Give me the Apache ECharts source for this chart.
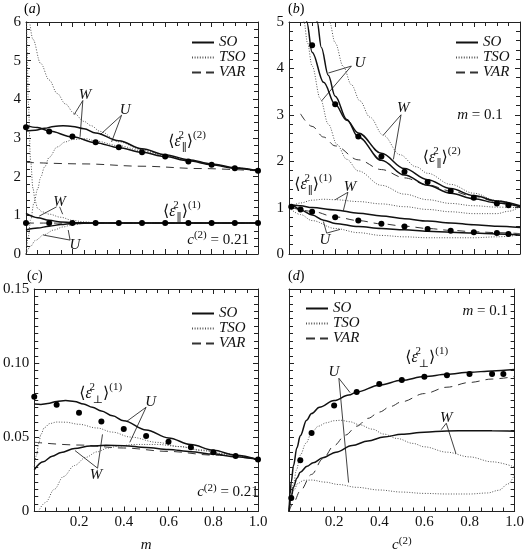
<!DOCTYPE html>
<html><head><meta charset="utf-8">
<script src="https://cdn.jsdelivr.net/npm/echarts@6/dist/echarts.min.js"></script>
<style>html,body{margin:0;padding:0;background:#fff}#c{width:527px;height:554px}</style>
</head><body><div id="c"></div>
<script>
const FONT = '"Liberation Serif","DejaVu Serif","Times New Roman",serif';

// ---------- Panel (a): x = m, c(2)=0.21 ----------
const aDotX = [0,0.1,0.2,0.3,0.4,0.5,0.6,0.7,0.8,0.9,1.0];
const aDotPar2 = [3.28,3.17,3.04,2.89,2.76,2.63,2.52,2.39,2.31,2.22,2.15];
const aDotPar1 = [0.8,0.8,0.8,0.8,0.8,0.8,0.8,0.8,0.8,0.8,0.8];
const aSO_W2 = [[0,3.32],[0.05,3.27],[0.1,3.18],[0.2,3.03],[0.3,2.88],[0.4,2.75],[0.5,2.63],[0.6,2.52],[0.7,2.41],[0.8,2.31],[0.9,2.22],[1,2.15]];
const aSO_U2 = [[0,3.18],[0.04,3.2],[0.08,3.25],[0.12,3.3],[0.16,3.32],[0.2,3.3],[0.25,3.24],[0.3,3.13],[0.4,2.93],[0.5,2.72],[0.6,2.57],[0.7,2.44],[0.8,2.33],[0.9,2.23],[1,2.15]];
const aTSO_W2 = [[0.012,6.2],[0.03,5.55],[0.063,4.93],[0.1,4.5],[0.135,4.15],[0.17,3.88],[0.207,3.64],[0.25,3.43],[0.28,3.32],[0.32,3.17],[0.4,2.9],[0.5,2.7],[0.6,2.55],[0.7,2.42],[0.8,2.32],[0.9,2.23],[1,2.15]];
const aTSO_U2 = [[0,0],[0.01,0.45],[0.02,0.88],[0.034,1.31],[0.05,1.68],[0.063,1.98],[0.08,2.25],[0.1,2.5],[0.135,2.77],[0.17,2.9],[0.2,2.96],[0.26,2.98],[0.3,2.92],[0.4,2.8],[0.5,2.67],[0.6,2.54],[0.7,2.42],[0.8,2.31],[0.9,2.22],[1,2.15]];
const aVAR2 = [[0,2.37],[0.25,2.33],[0.5,2.27],[0.75,2.21],[1,2.15]];
const aSO_W1 = [[0,1.05],[0.05,0.94],[0.1,0.87],[0.15,0.83],[0.2,0.81],[0.3,0.8],[1,0.8]];
const aSO_U1 = [[0,0.62],[0.05,0.67],[0.1,0.72],[0.15,0.76],[0.2,0.79],[0.3,0.8],[1,0.8]];
const aTSO_W1 = [[0.002,6.5],[0.005,5.2],[0.01,3.9],[0.02,2.4],[0.03,1.7],[0.04,1.35],[0.05,1.18],[0.07,1.09],[0.1,1.03],[0.15,0.95],[0.2,0.87],[0.25,0.83],[0.3,0.81],[0.4,0.8],[1,0.8]];
const aTSO_U1 = [[0,0],[0.02,0.2],[0.04,0.35],[0.078,0.5],[0.12,0.62],[0.16,0.7],[0.2,0.76],[0.25,0.79],[0.3,0.8],[1,0.8]];
const aVAR1 = [[0,0.8],[1,0.8]];

// ---------- Panel (b): x = c(2), m=0.1 ----------
const bDotX2 = [0.1,0.2,0.3,0.4,0.5,0.6,0.7,0.8,0.9,0.95];
const bDotPar2 = [4.5,3.23,2.53,2.1,1.77,1.55,1.36,1.21,1.09,1.05];
const bDotX1 = [0.01,0.05,0.1,0.2,0.3,0.4,0.5,0.6,0.7,0.8,0.9,0.95];
const bDotPar1 = [1.02,0.96,0.91,0.79,0.72,0.65,0.59,0.54,0.5,0.47,0.45,0.43];
const bSO_U2 = [[0.116,5.2],[0.122,5.0],[0.14,4.45],[0.17,3.85],[0.2,3.4],[0.25,2.9],[0.3,2.52],[0.4,2.02],[0.5,1.7],[0.6,1.48],[0.7,1.31],[0.8,1.19],[0.9,1.1],[1,1.02]];
const bSO_W2 = [[0.071,5.2],[0.077,5.0],[0.1,4.35],[0.15,3.7],[0.2,3.22],[0.25,2.88],[0.3,2.61],[0.4,2.17],[0.5,1.84],[0.6,1.6],[0.7,1.41],[0.8,1.26],[0.9,1.14],[1,1.04]];
const bTSO_U2 = [[0.06,5.2],[0.065,5.0],[0.08,4.55],[0.1,4.05],[0.136,3.34],[0.17,2.8],[0.208,2.36],[0.25,2.04],[0.3,1.79],[0.4,1.48],[0.5,1.29],[0.6,1.17],[0.7,1.09],[0.8,1.04],[0.9,1.01],[1,1.0]];
const bTSO_W2 = [[0.17,5.2],[0.175,5.0],[0.2,4.55],[0.235,4.04],[0.27,3.65],[0.307,3.3],[0.35,2.95],[0.408,2.56],[0.48,2.14],[0.55,1.88],[0.6,1.74],[0.7,1.5],[0.8,1.31],[0.9,1.15],[1,1.03]];
const bVAR2 = [[0.05,3.02],[0.1,2.75],[0.15,2.52],[0.2,2.33],[0.3,2.03],[0.4,1.82],[0.5,1.64],[0.6,1.49],[0.7,1.36],[0.8,1.24],[0.9,1.13],[1,1.03]];
const bSO_W1 = [[0,1.0],[0.02,1.05],[0.05,1.04],[0.1,1.0],[0.2,0.95],[0.3,0.88],[0.4,0.82],[0.5,0.76],[0.6,0.71],[0.7,0.67],[0.8,0.63],[0.9,0.6],[1,0.57]];
const bSO_U1 = [[0,1.0],[0.02,1.03],[0.05,0.95],[0.1,0.84],[0.15,0.73],[0.2,0.66],[0.3,0.59],[0.4,0.55],[0.5,0.52],[0.6,0.49],[0.7,0.47],[0.8,0.45],[0.9,0.43],[1,0.41]];
const bTSO_W1 = [[0,1.0],[0.05,1.1],[0.1,1.16],[0.15,1.18],[0.2,1.17],[0.3,1.13],[0.4,1.08],[0.5,1.02],[0.6,0.96],[0.7,0.91],[0.8,0.87],[0.9,0.87],[0.95,0.92],[1,1.02]];
const bTSO_U1 = [[0,1.0],[0.05,0.85],[0.1,0.72],[0.2,0.55],[0.3,0.46],[0.4,0.4],[0.5,0.37],[0.6,0.35],[0.7,0.35],[0.8,0.35],[0.9,0.37],[1,0.41]];
const bVAR1 = [[0.01,1.0],[0.1,0.92],[0.2,0.8],[0.3,0.72],[0.4,0.65],[0.5,0.6],[0.6,0.55],[0.7,0.51],[0.8,0.48],[0.9,0.46],[1,0.44]];

// ---------- Panel (c): x = m, c(2)=0.21 ----------
const cDotX = [0,0.1,0.2,0.3,0.4,0.5,0.6,0.7,0.8,0.9,1.0];
const cDotPerp = [0.0773,0.0719,0.0665,0.0606,0.0556,0.0509,0.047,0.0433,0.04,0.0374,0.035];
const cSO_U = [[0,0.0725],[0.03,0.0722],[0.06,0.0728],[0.1,0.0742],[0.14,0.0748],[0.18,0.0742],[0.22,0.0725],[0.26,0.0702],[0.3,0.0678],[0.35,0.0645],[0.4,0.0612],[0.5,0.055],[0.6,0.0496],[0.7,0.0451],[0.8,0.0413],[0.9,0.038],[1,0.035]];
const cSO_W = [[0,0.0281],[0.04,0.0335],[0.08,0.0372],[0.12,0.0398],[0.18,0.0425],[0.25,0.0441],[0.32,0.0446],[0.4,0.0444],[0.5,0.0432],[0.6,0.0418],[0.7,0.0403],[0.8,0.0387],[0.9,0.0369],[1,0.035]];
const cTSO_W = [[0,0.03],[0.01,0.038],[0.02,0.046],[0.03,0.052],[0.045,0.0565],[0.07,0.0593],[0.1,0.0603],[0.14,0.0602],[0.2,0.0588],[0.28,0.0563],[0.35,0.0535],[0.43,0.0502],[0.55,0.0466],[0.65,0.0437],[0.75,0.041],[0.85,0.0385],[1,0.035]];
const cTSO_U = [[0.018,0],[0.05,0.006],[0.09,0.015],[0.13,0.0235],[0.18,0.031],[0.23,0.0365],[0.28,0.0402],[0.33,0.0428],[0.38,0.0442],[0.45,0.0452],[0.55,0.0452],[0.65,0.0438],[0.75,0.0415],[0.85,0.039],[1,0.035]];
const cVAR = [[0,0.0467],[0.2,0.0448],[0.4,0.0428],[0.6,0.0405],[0.8,0.038],[1,0.035]];

// ---------- Panel (d): x = c(2), m=0.1 ----------
const dDotX = [0.01,0.05,0.1,0.2,0.3,0.4,0.5,0.6,0.7,0.8,0.9,0.95];
const dDotPerp = [0.0091,0.0346,0.053,0.0714,0.0805,0.0859,0.0887,0.0909,0.0918,0.0927,0.0927,0.0927];
const dSO_U = [[0,0],[0.005,0.012],[0.01,0.02],[0.02,0.031],[0.035,0.043],[0.05,0.051],[0.078,0.0615],[0.1,0.066],[0.135,0.0703],[0.2,0.0748],[0.265,0.0785],[0.3,0.0805],[0.4,0.0851],[0.5,0.0884],[0.6,0.091],[0.7,0.0925],[0.8,0.0938],[0.9,0.0948],[1,0.0957]];
const dSO_W = [[0,0],[0.01,0.01],[0.02,0.0165],[0.035,0.0225],[0.05,0.0265],[0.08,0.0305],[0.107,0.0328],[0.15,0.0362],[0.208,0.04],[0.28,0.0445],[0.35,0.0476],[0.42,0.0502],[0.5,0.0521],[0.6,0.0535],[0.7,0.0543],[0.8,0.0545],[0.9,0.0544],[1,0.0541]];
const dTSO_W = [[0,0],[0.01,0.01],[0.02,0.019],[0.033,0.028],[0.05,0.038],[0.075,0.046],[0.1,0.053],[0.13,0.0575],[0.165,0.0598],[0.2,0.0612],[0.23,0.0615],[0.27,0.0605],[0.31,0.0586],[0.37,0.0555],[0.42,0.0522],[0.48,0.0492],[0.55,0.0459],[0.6,0.0436],[0.7,0.04],[0.8,0.0368],[0.9,0.0335],[1,0.03]];
const dTSO_U = [[0,0],[0.01,0.009],[0.02,0.014],[0.04,0.019],[0.065,0.021],[0.1,0.0212],[0.16,0.0198],[0.22,0.0182],[0.3,0.0163],[0.4,0.0145],[0.5,0.0131],[0.6,0.0122],[0.7,0.0118],[0.8,0.0118],[0.88,0.0125],[0.93,0.0143],[0.97,0.0185],[1,0.025]];
const dVAR = [[0,0],[0.02,0.006],[0.05,0.014],[0.1,0.025],[0.15,0.0355],[0.2,0.0445],[0.25,0.0515],[0.3,0.0575],[0.35,0.0628],[0.4,0.067],[0.45,0.0708],[0.5,0.074],[0.6,0.0795],[0.7,0.0838],[0.8,0.087],[0.9,0.0893],[1,0.091]];

// ---------- annotations (data coordinates) ----------
const aArrows = [[0.245,3.97,0.207,3.6],[0.245,3.97,0.233,3.03],[0.412,3.59,0.319,3.08],[0.412,3.59,0.369,2.9],
                 [0.132,1.22,0.057,0.98],[0.145,1.22,0.158,1.03],[0.19,0.36,0.075,0.49],[0.19,0.36,0.182,0.62]];
const bArrows = [[0.27,4.05,0.17,3.9],[0.27,4.05,0.141,3.3],[0.485,3.0,0.408,2.56],[0.485,3.0,0.452,2.04],
                 [0.255,1.33,0.2,1.17],[0.255,1.33,0.235,0.93],[0.163,0.45,0.149,0.7],[0.163,0.45,0.221,0.53]];
const cArrows = [[0.5,0.0703,0.412,0.0606],[0.5,0.0703,0.427,0.0466],[0.283,0.0292,0.182,0.0411],[0.283,0.0292,0.305,0.052]];
const dArrows = [[0.221,0.0898,0.271,0.0801],[0.221,0.0898,0.264,0.0195],[0.697,0.0595,0.675,0.0552],[0.697,0.0595,0.74,0.039]];

const EPAR2 = '{n|⟨}{e|ε}{sp|2}{sb|∥}{n|⟩}{sq|(2)}';
const EPAR1 = '{n|⟨}{e|ε}{sp|2}{sb|∥}{n|⟩}{sq|(1)}';
const EPERP1 = '{n|⟨}{e|ε}{sp|2}{sb|⊥}{n|⟩}{sq|(1)}';
const C21 = '{i|c}{sq|(2)}{t| = 0.21}';
const M01 = '{i|m}{t| = 0.1}';
const aLabels = [[0.254,4.11,'{i|W}'],[0.427,3.72,'{i|U}'],[0.144,1.35,'{i|W}'],[0.211,0.23,'{i|U}'],
                 [0.694,2.9,EPAR2],[0.672,1.09,EPAR1],[0.828,0.36,C21]];
const bLabels = [[0.307,4.11,'{i|U}'],[0.495,3.14,'{i|W}'],[0.264,1.45,'{i|W}'],[0.156,0.3,'{i|U}'],
                 [0.827,3.0,M01],[0.661,2.07,EPAR2],[0.104,1.49,EPAR1]];
const cLabels = [[0.52,0.0736,'{i|U}'],[0.276,0.0249,'{i|W}'],[0.297,0.0792,EPERP1],[0.866,0.013,C21]];
const dLabels = [[0.199,0.0942,'{i|U}'],[0.697,0.0628,'{i|W}'],[0.87,0.1353,M01],[0.61,0.1039,EPERP1]];

// ---------- styles ----------
const INK = '#111';
const ST = {
  SO:  {color: INK, width: 1.5, type: 'solid'},
  TSO: {color: '#555', width: 1, type: [1, 1.6]},
  VAR: {color: '#333', width: 1, type: [8, 6]}
};
const rich = {
  n:  {fontFamily: FONT, fontSize: 16, color: INK, lineHeight: 24},
  e:  {fontFamily: FONT, fontSize: 16, fontStyle: 'italic', color: INK, lineHeight: 24},
  sp: {fontFamily: FONT, fontSize: 11, color: INK, verticalAlign: 'top', lineHeight: 11, width: 1},
  sb: {fontFamily: FONT, fontSize: 11, color: INK, verticalAlign: 'bottom', lineHeight: 11},
  sq: {fontFamily: FONT, fontSize: 11, color: INK, verticalAlign: 'top', lineHeight: 12},
  i:  {fontFamily: FONT, fontSize: 15, fontStyle: 'italic', color: INK, lineHeight: 20},
  t:  {fontFamily: FONT, fontSize: 15, color: INK, lineHeight: 20}
};

const grids = [
  {left: 26, top: 22, width: 232, height: 232},
  {left: 289, top: 22, width: 231, height: 232},
  {left: 26, top: 289, width: 232, height: 231},
  {left: 289, top: 289, width: 231, height: 231}
];

function xAxis(g, pos, showLabels, name) {
  return {
    type: 'value', gridIndex: g, position: pos, min: 0, max: 1, interval: 0.2,
    axisLine: {show: true, onZero: false, lineStyle: {color: '#222', width: 1}},
    axisTick: {show: true, inside: true, length: 5, lineStyle: {color: '#222'}},
    minorTick: {show: true, splitNumber: 4, length: 4, lineStyle: {color: '#222'}},
    splitLine: {show: false}, minorSplitLine: {show: false},
    axisLabel: {show: showLabels, margin: 3, fontFamily: FONT, fontSize: 15, color: INK,
      formatter: v => (Math.abs(v) < 1e-9 ? '' : v.toFixed(1))},
    name: name || '', nameLocation: 'middle', nameGap: 24,
    nameTextStyle: {fontFamily: FONT, fontSize: 15, color: INK, rich: rich}
  };
}
function yAxis(g, pos, showLabels, max, interval, split, fmt) {
  return {
    type: 'value', gridIndex: g, position: pos, min: 0, max: max, interval: interval,
    axisLine: {show: true, onZero: false, lineStyle: {color: '#222', width: 1}},
    axisTick: {show: true, inside: true, length: 5, lineStyle: {color: '#222'}},
    minorTick: {show: true, splitNumber: split, length: 4, lineStyle: {color: '#222'}},
    splitLine: {show: false}, minorSplitLine: {show: false},
    axisLabel: {show: showLabels, margin: 5, fontFamily: FONT, fontSize: 15, color: INK, formatter: fmt}
  };
}
const intFmt = v => String(Math.round(v));
const cFmt = v => (Math.abs(v) < 1e-9 ? '0' : v.toFixed(2));

const xAxes = [
  xAxis(0, 'bottom', false), xAxis(1, 'bottom', false),
  xAxis(2, 'bottom', true, '{i|m}'), xAxis(3, 'bottom', true, '{i|c}{sq|(2)}'),
  xAxis(0, 'top', false), xAxis(1, 'top', false), xAxis(2, 'top', false), xAxis(3, 'top', false)
];
const yAxes = [
  yAxis(0, 'left', true, 6, 1, 5, intFmt), yAxis(1, 'left', true, 5, 1, 5, intFmt),
  yAxis(2, 'left', true, 0.15, 0.05, 10, cFmt), yAxis(3, 'left', false, 0.15, 0.05, 10, cFmt),
  yAxis(0, 'right', false, 6, 1, 5, intFmt), yAxis(1, 'right', false, 5, 1, 5, intFmt),
  yAxis(2, 'right', false, 0.15, 0.05, 10, cFmt), yAxis(3, 'right', false, 0.15, 0.05, 10, cFmt)
];

const series = [];
function curve(g, name, data, kind) {
  series.push({
    type: 'line', name: name, xAxisIndex: g, yAxisIndex: g, data: data,
    smooth: 0.35, smoothMonotone: 'x', symbol: 'none', clip: true, silent: true,
    lineStyle: ST[kind], z: kind === 'SO' ? 4 : 3, animation: false
  });
}
function dots(g, name, xs, ys) {
  series.push({
    type: 'scatter', name: name, xAxisIndex: g, yAxisIndex: g,
    data: xs.map((x, i) => [x, ys[i]]), symbol: 'circle', symbolSize: 6,
    itemStyle: {color: '#000', opacity: 1}, z: 6, silent: true, animation: false
  });
}
function notes(g, arrows, labels) {
  series.push({
    type: 'line', name: 'notes' + g, xAxisIndex: g, yAxisIndex: g, data: [], silent: true, animation: false,
    markLine: {
      silent: true, animation: false, symbol: ['none', 'arrow'], symbolSize: [0, 7],
      lineStyle: {color: INK, width: 0.8, type: 'solid'}, label: {show: false},
      data: arrows.map(a => [{coord: [a[0], a[1]]}, {coord: [a[2], a[3]]}])
    },
    markPoint: {
      silent: true, animation: false, symbol: 'circle', symbolSize: 0,
      data: labels.map(l => ({
        coord: [l[0], l[1]], symbolSize: 0,
        label: {show: true, position: 'inside', formatter: l[2], rich: rich, color: INK}
      }))
    }
  });
}

// legend proxies (line only, symbol made invisible)
['SO', 'TSO', 'VAR'].forEach(k => series.push({
  type: 'line', name: k, xAxisIndex: 0, yAxisIndex: 0, data: [], symbol: 'none',
  lineStyle: ST[k], itemStyle: {color: 'rgba(0,0,0,0)', borderWidth: 0}
}));

// (a)
curve(0, 'aVAR2', aVAR2, 'VAR'); curve(0, 'aVAR1', aVAR1, 'VAR');
curve(0, 'aTSO_W2', aTSO_W2, 'TSO'); curve(0, 'aTSO_U2', aTSO_U2, 'TSO');
curve(0, 'aTSO_W1', aTSO_W1, 'TSO'); curve(0, 'aTSO_U1', aTSO_U1, 'TSO');
curve(0, 'aSO_W2', aSO_W2, 'SO'); curve(0, 'aSO_U2', aSO_U2, 'SO');
curve(0, 'aSO_W1', aSO_W1, 'SO'); curve(0, 'aSO_U1', aSO_U1, 'SO');
dots(0, 'aDots2', aDotX, aDotPar2); dots(0, 'aDots1', aDotX, aDotPar1);
notes(0, aArrows, aLabels);
// (b)
curve(1, 'bVAR2', bVAR2, 'VAR'); curve(1, 'bVAR1', bVAR1, 'VAR');
curve(1, 'bTSO_W2', bTSO_W2, 'TSO'); curve(1, 'bTSO_U2', bTSO_U2, 'TSO');
curve(1, 'bTSO_W1', bTSO_W1, 'TSO'); curve(1, 'bTSO_U1', bTSO_U1, 'TSO');
curve(1, 'bSO_W2', bSO_W2, 'SO'); curve(1, 'bSO_U2', bSO_U2, 'SO');
curve(1, 'bSO_W1', bSO_W1, 'SO'); curve(1, 'bSO_U1', bSO_U1, 'SO');
dots(1, 'bDots2', bDotX2, bDotPar2); dots(1, 'bDots1', bDotX1, bDotPar1);
notes(1, bArrows, bLabels);
// (c)
curve(2, 'cVAR', cVAR, 'VAR');
curve(2, 'cTSO_W', cTSO_W, 'TSO'); curve(2, 'cTSO_U', cTSO_U, 'TSO');
curve(2, 'cSO_U', cSO_U, 'SO'); curve(2, 'cSO_W', cSO_W, 'SO');
dots(2, 'cDots', cDotX, cDotPerp);
notes(2, cArrows, cLabels);
// (d)
curve(3, 'dVAR', dVAR, 'VAR');
curve(3, 'dTSO_W', dTSO_W, 'TSO'); curve(3, 'dTSO_U', dTSO_U, 'TSO');
curve(3, 'dSO_U', dSO_U, 'SO'); curve(3, 'dSO_W', dSO_W, 'SO');
dots(3, 'dDots', dDotX, dDotPerp);
notes(3, dArrows, dLabels);

function legendAt(left, top) {
  return {
    data: ['SO', 'TSO', {name: 'VAR', lineStyle: {type: [9, 5]}}],
    left: left, top: top, orient: 'vertical',
    itemWidth: 22, itemHeight: 15, itemGap: 0, selectedMode: false, padding: 0,
    itemStyle: {color: 'rgba(0,0,0,0)', borderWidth: 0},
    textStyle: {fontFamily: FONT, fontStyle: 'italic', fontSize: 15, lineHeight: 15, color: INK}
  };
}

function panelLabel(letter, x, y) {
  return {
    type: 'text', left: x, top: y, silent: true,
    style: {text: '{n|(}{i|' + letter + '}{n|)}', rich: {
      n: {fontFamily: FONT, fontSize: 14, color: INK},
      i: {fontFamily: FONT, fontSize: 14, fontStyle: 'italic', color: INK}
    }}
  };
}

const chart = echarts.init(document.getElementById('c'), null, {renderer: 'canvas'});
chart.setOption({
  animation: false,
  backgroundColor: '#fff',
  grid: grids,
  xAxis: xAxes,
  yAxis: yAxes,
  legend: [legendAt(191, 35), legendAt(455, 35), legendAt(191, 306), legendAt(305, 301)],
  graphic: [panelLabel('a', 24, 2), panelLabel('b', 288, 2), panelLabel('c', 27, 269), panelLabel('d', 288, 269)],
  series: series
});
</script>
</body></html>
